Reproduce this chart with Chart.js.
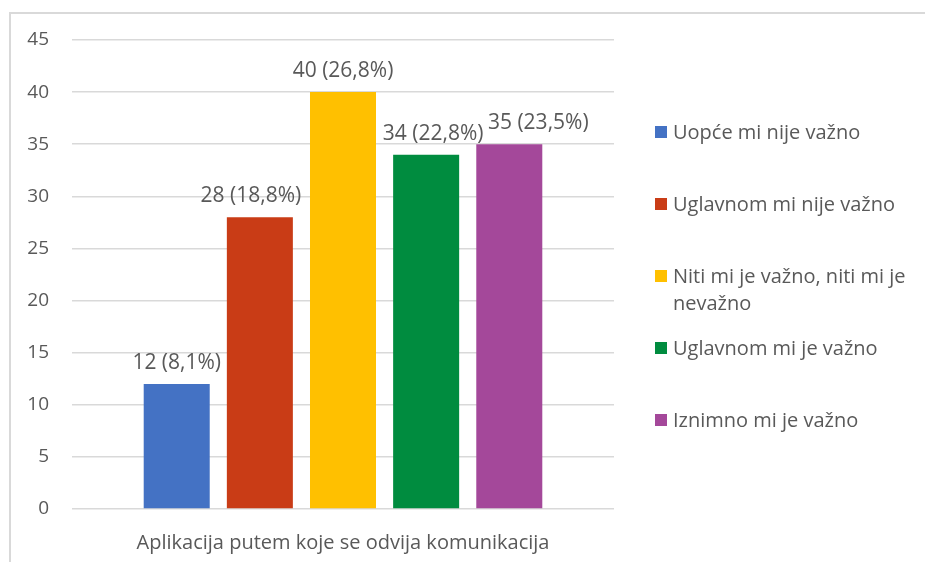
<!DOCTYPE html>
<html>
<head>
<meta charset="utf-8">
<script src="https://cdn.jsdelivr.net/npm/chart.js@4"></script>
<style>
    html, body {
        margin: 0;
        padding: 0;
        background: #ffffff;
    }

    #wrap {
        position: relative;
        width: 925px;
        height: 562px;
        overflow: hidden;
        font-family: "Open Sans", sans-serif;
    }

    #frame {
        position: absolute;
        left: 9px;
        top: 12px;
        width: 940px;
        height: 580px;
        border-top: 2px solid #d9d9d9;
        border-left: 2px solid #d9d9d9;
    }

    #chart {
        position: absolute;
        left: 0;
        top: 0;
    }

    #legend {
        position: absolute;
        left: 655px;
        top: 118px;
        color: #595959;
        font-size: 20px;
        line-height: 27px;
    }

    .legend-item {
        display: flex;
        align-items: flex-start;
        height: 72px;
    }

    .legend-box {
        width: 12px;
        height: 12px;
        margin-top: 8px;
        margin-right: 6px;
        flex: none;
    }

    .legend-text {
        width: 245px;
    }
</style>
</head>
<body>
<div id="wrap">
    <div id="frame"></div>
    <canvas id="chart" width="925" height="562"></canvas>
    <div id="legend"></div>
</div>

<script>
const categories = ["Aplikacija putem koje se odvija komunikacija"];
const seriesNames = [
    "Uopće mi nije važno",
    "Uglavnom mi nije važno",
    "Niti mi je važno, niti mi je nevažno",
    "Uglavnom mi je važno",
    "Iznimno mi je važno",
];
const seriesValues = [12, 28, 40, 34, 35];
const seriesPercents = [8.1, 18.8, 26.8, 22.8, 23.5];
const yTickValues = [0, 5, 10, 15, 20, 25, 30, 35, 40, 45];

const seriesColors = ["#4472C4", "#C93C16", "#FFC000", "#008C3F", "#A4489A"];
const TEXT_COLOR = "#595959";
const GRID_COLOR = "#d9d9d9";

// Excel nudged some labels sideways so they don't collide
const labelShift = [0, -9, 0, 7, 29];

function formatLabel(value, percent) {
    return `${value} (${percent.toFixed(1).replace(".", ",")}%)`;
}

const valueLabels = {
    id: "valueLabels",
    afterDatasetsDraw(chart) {
        const ctx = chart.ctx;
        ctx.save();
        ctx.font = "21px 'Open Sans'";
        ctx.fillStyle = TEXT_COLOR;
        ctx.textAlign = "center";
        ctx.textBaseline = "alphabetic";

        chart.data.datasets.forEach((dataset, i) => {
            const bar = chart.getDatasetMeta(i).data[0];
            const text = formatLabel(seriesValues[i], seriesPercents[i]);
            ctx.fillText(text, bar.x + labelShift[i], bar.y - 15);
        });

        ctx.restore();
    },
};

function buildLegend() {
    const legend = document.getElementById("legend");
    seriesNames.forEach((name, i) => {
        const item = document.createElement("div");
        item.className = "legend-item";

        const box = document.createElement("span");
        box.className = "legend-box";
        box.style.background = seriesColors[i];

        const text = document.createElement("span");
        text.className = "legend-text";
        text.textContent = name;

        item.appendChild(box);
        item.appendChild(text);
        legend.appendChild(item);
    });
}

Chart.defaults.font.family = "'Open Sans', sans-serif";
Chart.defaults.font.size = 20;
Chart.defaults.color = TEXT_COLOR;

new Chart(document.getElementById("chart"), {
    type: "bar",
    data: {
        labels: categories,
        datasets: seriesNames.map((name, i) => ({
            label: name,
            data: [seriesValues[i]],
            backgroundColor: seriesColors[i],
            borderWidth: 0,
            categoryPercentage: 0.767,
            barPercentage: 0.794,
        })),
    },
    options: {
        responsive: false,
        animation: false,
        devicePixelRatio: 1,
        layout: {
            padding: { left: 0, right: 311, top: 40, bottom: 0 },
        },
        plugins: {
            legend: { display: false },
            tooltip: { enabled: false },
        },
        scales: {
            x: {
                grid: { display: false },
                border: { display: false },
                ticks: { padding: 14 },
                afterFit(scale) {
                    scale.height = 53;
                },
            },
            y: {
                min: yTickValues[0],
                max: yTickValues[yTickValues.length - 1],
                ticks: {
                    stepSize: yTickValues[1] - yTickValues[0],
                    padding: 23,
                    font: { size: 19 },
                },
                grid: {
                    color: GRID_COLOR,
                    lineWidth: 1.5,
                    drawTicks: false,
                },
                border: { display: false },
                afterFit(scale) {
                    scale.width = 72;
                },
            },
        },
    },
    plugins: [valueLabels],
});

buildLegend();
</script>
</body>
</html>
